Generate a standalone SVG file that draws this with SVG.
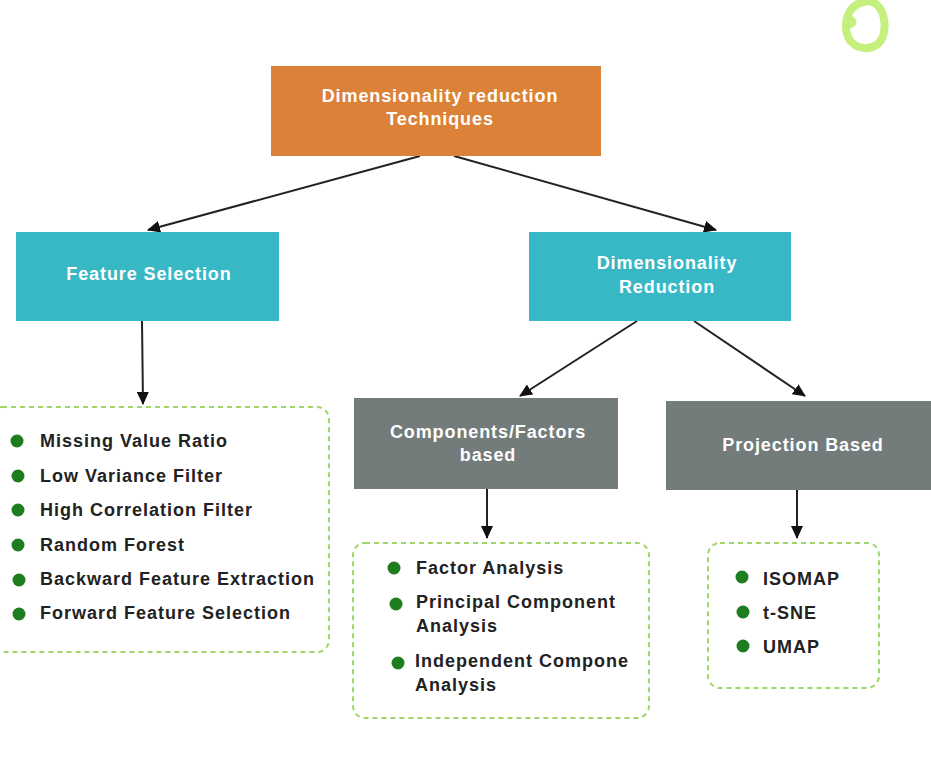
<svg xmlns="http://www.w3.org/2000/svg" width="931" height="766" viewBox="0 0 931 766">
<style>
.t{font-family:"Liberation Sans",Arial,sans-serif;font-weight:bold;font-size:18px;letter-spacing:0.9px;fill:#ffffff;text-anchor:middle}
.l{font-family:"Liberation Sans",Arial,sans-serif;font-weight:bold;font-size:18px;letter-spacing:1px;fill:#222222}
.c{stroke:#222222;stroke-width:2;fill:none;marker-end:url(#ah)}
.d{fill:none;stroke:#9fd66a;stroke-width:2;stroke-dasharray:5 4}
.b{fill:#1e7d1e}
</style>
<defs>
<marker id="ah" markerWidth="14" markerHeight="12" refX="12" refY="6" orient="auto" markerUnits="userSpaceOnUse">
<path d="M0,0 L13,6 L0,12 Z" fill="#111"/>
</marker>
</defs>
<rect width="931" height="766" fill="#ffffff"/>
<path d="M864,2 C850,4 843,20 847,34 C851,48 867,52 878,44 C888,34 886,12 876,4 C870,0 864,2 864,2 M847,24 C852,25 854,22 851,20" fill="none" stroke="#c5f07e" stroke-width="8" stroke-linecap="round"/>
<g id="connectors">
<line class="c" x1="420" y1="156" x2="148" y2="230"/>
<line class="c" x1="454" y1="156" x2="716" y2="230"/>
<line class="c" x1="142" y1="321" x2="143" y2="404"/>
<line class="c" x1="637" y1="321" x2="520" y2="396"/>
<line class="c" x1="694" y1="321" x2="805" y2="396"/>
<line class="c" x1="487" y1="489" x2="487" y2="538"/>
<line class="c" x1="797" y1="490" x2="797" y2="538"/>
</g>
<g id="root">
<rect x="271" y="66" width="330" height="90" fill="#dc8238"/>
<text class="t" x="440" y="102">Dimensionality reduction</text>
<text class="t" x="440" y="125">Techniques</text>
</g>
<g id="feature-selection">
<rect x="16" y="232" width="263" height="89" fill="#38b8c4"/>
<text class="t" x="149" y="280">Feature Selection</text>
</g>
<g id="dimensionality-reduction">
<rect x="529" y="232" width="262" height="89" fill="#38b8c4"/>
<text class="t" x="667" y="269">Dimensionality</text>
<text class="t" x="667" y="293">Reduction</text>
</g>
<g id="components">
<rect x="354" y="398" width="264" height="91" fill="#737b7b"/>
<text class="t" x="488" y="438">Components/Factors</text>
<text class="t" x="488" y="461">based</text>
</g>
<g id="projection">
<rect x="666" y="401" width="265" height="89" fill="#737b7b"/>
<text class="t" x="803" y="451">Projection Based</text>
</g>
<g id="feature-list">
<rect class="d" x="-10" y="407" width="339" height="245" rx="12"/>
<circle class="b" cx="17" cy="441" r="6.5"/><text class="l" x="40" y="447">Missing Value Ratio</text>
<circle class="b" cx="18" cy="476" r="6.5"/><text class="l" x="40" y="482">Low Variance Filter</text>
<circle class="b" cx="18" cy="510" r="6.5"/><text class="l" x="40" y="516">High Correlation Filter</text>
<circle class="b" cx="18" cy="545" r="6.5"/><text class="l" x="40" y="551">Random Forest</text>
<circle class="b" cx="19" cy="580" r="6.5"/><text class="l" x="40" y="585">Backward Feature Extraction</text>
<circle class="b" cx="19" cy="614" r="6.5"/><text class="l" x="40" y="619">Forward Feature Selection</text>
</g>
<g id="components-list">
<rect class="d" x="353" y="543" width="296" height="175" rx="12"/>
<circle class="b" cx="394" cy="568" r="6.5"/><text class="l" x="416" y="574">Factor Analysis</text>
<circle class="b" cx="396" cy="604" r="6.5"/><text class="l" x="416" y="608">Principal Component</text>
<text class="l" x="416" y="632">Analysis</text>
<circle class="b" cx="398" cy="663" r="6.5"/><text class="l" x="415" y="667">Independent Compone</text>
<text class="l" x="415" y="691">Analysis</text>
</g>
<g id="projection-list">
<rect class="d" x="708" y="543" width="171" height="145" rx="12"/>
<circle class="b" cx="742" cy="577" r="6.5"/><text class="l" x="763" y="585">ISOMAP</text>
<circle class="b" cx="743" cy="612" r="6.5"/><text class="l" x="763" y="619">t-SNE</text>
<circle class="b" cx="743" cy="646" r="6.5"/><text class="l" x="763" y="653">UMAP</text>
</g>
</svg>
